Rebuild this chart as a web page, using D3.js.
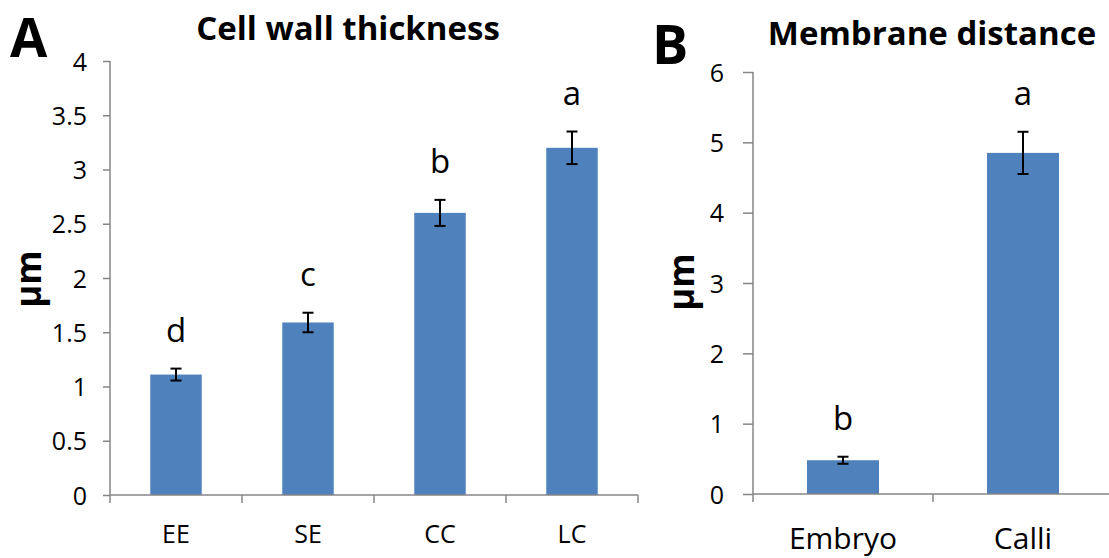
<!DOCTYPE html>
<html>
<head>
<meta charset="utf-8">
<script src="https://cdn.jsdelivr.net/npm/d3@7"></script>
<style>
  body { margin: 0; background: #fff; }
  svg { display: block; font-family: "Open Sans", sans-serif; }
  svg text { font-family: "Open Sans", sans-serif; }
</style>
</head>
<body>
<svg id="chart" width="1109" height="558"></svg>
<script>
// Panel A: cell wall thickness
var catsA = ["EE", "SE", "CC", "LC"];
var valuesA = [1.11, 1.59, 2.60, 3.20];
var errorsA = [0.055, 0.09, 0.12, 0.15];
var lettersA = ["d", "c", "b", "a"];
var ticksA = [0, 0.5, 1, 1.5, 2, 2.5, 3, 3.5, 4];

// Panel B: membrane distance
var catsB = ["Embryo", "Calli"];
var valuesB = [0.48, 4.85];
var errorsB = [0.05, 0.30];
var lettersB = ["b", "a"];
var ticksB = [0, 1, 2, 3, 4, 5, 6];

var svg = d3.select("#chart");
var barColor = "#4f81bd";
var axisColor = "#868686";

function panel(opts) {
    var x = d3.scaleBand().domain(opts.cats).range(opts.xRange).padding(0);
    var y = d3.scaleLinear().domain(opts.yDomain).range(opts.yRange);
    var g = svg.append("g");
    var bw = x.bandwidth() * opts.barFrac;

    // bars
    g.selectAll("rect.bar")
        .data(opts.values)
        .enter().append("rect")
        .attr("class", "bar")
        .attr("x", function (d, i) { return x(opts.cats[i]) + (x.bandwidth() - bw) / 2; })
        .attr("width", bw)
        .attr("y", function (d) { return y(d); })
        .attr("height", function (d) { return y(0) - y(d); })
        .attr("fill", barColor);

    // error bars
    var eb = g.selectAll("g.err")
        .data(opts.values)
        .enter().append("g")
        .attr("class", "err")
        .attr("transform", function (d, i) {
            return "translate(" + (x(opts.cats[i]) + x.bandwidth() / 2) + ",0)";
        });
    eb.append("line")
        .attr("y1", function (d, i) { return y(d + opts.errors[i]); })
        .attr("y2", function (d, i) { return y(d - opts.errors[i]); });
    eb.append("line")
        .attr("x1", -5.5).attr("x2", 5.5)
        .attr("y1", function (d, i) { return y(d + opts.errors[i]); })
        .attr("y2", function (d, i) { return y(d + opts.errors[i]); });
    eb.append("line")
        .attr("x1", -5.5).attr("x2", 5.5)
        .attr("y1", function (d, i) { return y(d - opts.errors[i]); })
        .attr("y2", function (d, i) { return y(d - opts.errors[i]); });
    eb.selectAll("line").attr("stroke", "#000").attr("stroke-width", 2);

    // significance letters
    eb.append("text")
        .attr("y", function (d, i) { return y(d + opts.errors[i]) - 27; })
        .attr("text-anchor", "middle")
        .style("font-size", "33px")
        .text(function (d, i) { return opts.letters[i]; });

    // y axis
    var yAxis = g.append("g")
        .attr("transform", "translate(" + opts.xRange[0] + ",0)")
        .call(d3.axisLeft(y).tickValues(opts.ticks).tickSize(opts.tickLen).tickPadding(opts.tickPad)
            .tickFormat(d3.format("")));
    yAxis.attr("font-family", null).attr("font-size", null);
    yAxis.select(".domain").attr("stroke", axisColor).attr("stroke-width", 1.5)
        .attr("d", "M0," + y(opts.yDomain[1]) + "V" + y(0));
    yAxis.selectAll(".tick line").attr("stroke", axisColor).attr("stroke-width", 1.5);
    yAxis.selectAll(".tick text").style("font-size", opts.tickFont + "px")
        .attr("fill", "#000").attr("dy", "0.36em");

    // x axis
    var xg = g.append("g").attr("transform", "translate(0," + y(0) + ")");
    xg.append("line")
        .attr("x1", opts.xRange[0]).attr("x2", opts.xRange[1])
        .attr("stroke", axisColor).attr("stroke-width", 1.5);
    var bounds = opts.cats.map(function (c) { return x(c); }).concat([opts.xRange[1]]);
    xg.selectAll("line.tk")
        .data(bounds)
        .enter().append("line")
        .attr("class", "tk")
        .attr("x1", function (d) { return d; })
        .attr("x2", function (d) { return d; })
        .attr("y1", 0).attr("y2", 8)
        .attr("stroke", axisColor).attr("stroke-width", 1.5);
    xg.selectAll("text")
        .data(opts.cats)
        .enter().append("text")
        .attr("x", function (d) { return x(d) + x.bandwidth() / 2; })
        .attr("y", opts.catY)
        .attr("text-anchor", "middle")
        .style("font-size", opts.catFont + "px")
        .text(function (d) { return d; });

    // y label
    g.append("text")
        .attr("transform", "translate(" + opts.yLabelX + "," + opts.yLabelY + ") rotate(-90)")
        .attr("text-anchor", "middle")
        .style("font-size", "35px")
        .style("font-weight", "bold")
        .text("µm");

    // title and panel letter
    g.append("text")
        .attr("x", opts.titleX).attr("y", opts.titleY)
        .attr("text-anchor", "middle")
        .style("font-size", opts.titleFont + "px")
        .style("font-weight", "bold")
        .text(opts.title);
    g.append("text")
        .attr("x", opts.tagX).attr("y", opts.tagY)
        .style("font-size", "54px")
        .style("font-weight", "bold")
        .text(opts.tag);
}

panel({
    cats: catsA, values: valuesA, errors: errorsA, letters: lettersA, ticks: ticksA,
    xRange: [110, 638], yDomain: [0, 4], yRange: [495, 61], barFrac: 0.39,
    tickFont: 25, tickLen: 7, tickPad: 16, catFont: 25, catY: 48,
    yLabelX: 41, yLabelY: 279,
    title: "Cell wall thickness", titleX: 348, titleY: 40, titleFont: 33,
    tag: "A", tagX: 10, tagY: 57
});

panel({
    cats: catsB, values: valuesB, errors: errorsB, letters: lettersB, ticks: ticksB,
    xRange: [753, 1113], yDomain: [0, 6], yRange: [494, 72], barFrac: 0.4,
    tickFont: 25, tickLen: 10, tickPad: 19, catFont: 30, catY: 55,
    yLabelX: 694, yLabelY: 282,
    title: "Membrane distance", titleX: 932, titleY: 45, titleFont: 33,
    tag: "B", tagX: 652, tagY: 64
});
</script>
</body>
</html>
